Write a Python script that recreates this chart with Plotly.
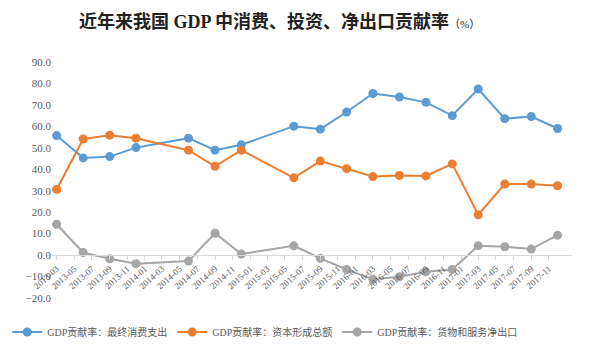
import plotly.graph_objects as go

# Data (quarterly points, %)
periods = ["2013-03", "2013-06", "2013-09", "2013-12", "2014-06", "2014-09", "2014-12",
           "2015-06", "2015-09", "2015-12", "2016-03", "2016-06", "2016-09", "2016-12",
           "2017-03", "2017-06", "2017-09", "2017-12"]
consumption = [55.7, 45.3, 45.9, 50.1, 54.5, 48.9, 51.4, 60.1, 58.7, 66.7, 75.3, 73.7,
               71.2, 65.0, 77.4, 63.6, 64.6, 59.0]
investment = [30.6, 54.1, 55.9, 54.5, 48.9, 41.4, 48.9, 36.0, 43.8, 40.3, 36.6, 37.1,
              36.9, 42.5, 18.8, 33.1, 33.1, 32.3]
net_exports = [14.4, 1.2, -1.7, -4.0, -2.8, 10.2, 0.5, 4.3, -1.5, -6.7, -11.3, -10.1,
               -7.8, -6.7, 4.3, 3.9, 2.8, 9.3]

tick_labels = ["2013-03", "2013-05", "2013-07", "2013-09", "2013-11",
               "2014-01", "2014-03", "2014-05", "2014-07", "2014-09", "2014-11",
               "2015-01", "2015-03", "2015-05", "2015-07", "2015-09", "2015-11",
               "2016-01", "2016-03", "2016-05", "2016-07", "2016-09", "2016-11",
               "2017-01", "2017-03", "2017-05", "2017-07", "2017-09", "2017-11"]

series_names = ["GDP贡献率：最终消费支出", "GDP贡献率：资本形成总额", "GDP贡献率：货物和服务净出口"]
colors = ["#5B9BD5", "#ED7D31", "#A5A5A5"]

x_dates = [p + "-01" for p in periods]
tick_dates = [t + "-01" for t in tick_labels]

fig = go.Figure()
for name, vals, col in zip(series_names, [consumption, investment, net_exports], colors):
    fig.add_trace(go.Scatter(
        x=x_dates, y=vals, name=name, mode="lines+markers",
        line=dict(color=col, width=2),
        marker=dict(color=col, size=9),
    ))

ymin, ymax = -20, 90
# the page body has an 8px margin, so the figure is sized to fit the window
fig.update_layout(
    width=584, height=352,
    paper_bgcolor="white", plot_bgcolor="white",
    margin=dict(l=44, r=20, t=54, b=62, autoexpand=False),
    title=dict(
        text="<b>近年来我国 GDP 中消费、投资、净出口贡献率</b><span style='font-size:11px'>（%）</span>",
        x=0.465, xanchor="center", y=0.962, yanchor="middle",
        font=dict(family="Liberation Serif, Noto Sans CJK SC", size=18, color="#222222"),
    ),
    font=dict(family="Liberation Serif, Noto Sans CJK SC", color="#595959", size=10),
    legend=dict(
        orientation="h", x=0.41, xanchor="center", y=-0.144, yanchor="middle",
        font=dict(family="Liberation Serif, Noto Sans CJK SC", size=10, color="#595959"),
        itemwidth=30, tracegroupgap=0,
    ),
    showlegend=True,
)

fig.update_yaxes(
    range=[ymin, ymax], dtick=10, tickformat=".1f",
    showgrid=False, zeroline=False, showline=False,
    tickfont=dict(family="Liberation Serif", size=11, color="#595959"),
    ticks="", ticklen=0,
)
fig.update_xaxes(
    type="date",
    range=["2013-02-13", "2018-01-20"],
    tickmode="array", tickvals=tick_dates, ticktext=tick_labels,
    tickangle=-42,
    tickfont=dict(family="Liberation Serif", size=9, color="#595959"),
    showgrid=False, zeroline=False,
    showline=True, linecolor="#D9D9D9", linewidth=1,
    ticks="outside", ticklen=4, tickcolor="#D9D9D9",
    anchor="free", position=(0 - ymin) / (ymax - ymin),
)

fig.write_html("out.html")
